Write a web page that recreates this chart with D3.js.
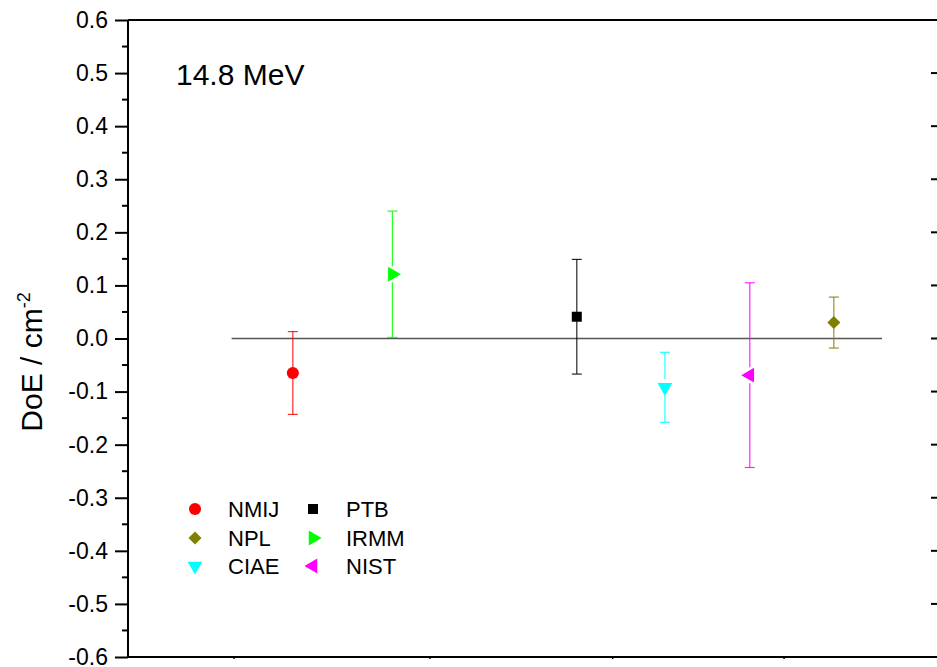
<!DOCTYPE html>
<html>
<head>
<meta charset="utf-8">
<script src="https://cdn.jsdelivr.net/npm/d3@7"></script>
<style>
  html, body { margin: 0; padding: 0; background: #fff; overflow: hidden; }
  svg { display: block; font-family: Arial, "Liberation Sans", sans-serif; }
</style>
</head>
<body>
<div id="chart"></div>
<script>
// ---- data ----
const labs   = ["NMIJ", "IRMM", "PTB", "CIAE", "NIST", "NPL"];
const xPos   = [20.2, 32.4, 55.0, 65.8, 76.2, 86.5];
const doe    = [-0.065, 0.121, 0.041, -0.092, -0.069, 0.030];
const unc    = [0.078, 0.119, 0.108, 0.066, 0.174, 0.048];
const colors = ["#ff0000", "#00ff00", "#000000", "#00ffff", "#ff00ff", "#808000"];
const shapes = ["circle", "triR", "square", "triD", "triL", "diamond"];
const legendOrder = [["NMIJ", "NPL", "CIAE"], ["PTB", "IRMM", "NIST"]];
const yTicks = [-0.6, -0.5, -0.4, -0.3, -0.2, -0.1, 0.0, 0.1, 0.2, 0.3, 0.4, 0.5, 0.6];
const xTicks = [13, 37, 59.4, 80.4];
const zeroLine = [12.7, 92.4];
const energyLabel = "14.8 MeV";

const W = 937, H = 667;
const L = 128, R = 944, T = 20, B = 657;

const svg = d3.select("#chart").append("svg").attr("width", W).attr("height", H);

const x = d3.scaleLinear().domain([0, 100]).range([L, R]);
const y = d3.scaleLinear().domain([-0.6, 0.6]).range([B, T]);

const fmt = v => d3.format(".1f")(v).replace("\u2212", "-");

const minor = d3.range(-0.55, 0.6, 0.1);

// left axis
const gl = svg.append("g").attr("transform", `translate(${L},0)`);
gl.call(d3.axisLeft(y).tickValues(yTicks).tickFormat(fmt).tickSize(13).tickPadding(7));
gl.select(".domain").remove();
gl.selectAll(".tick line").attr("stroke", "#000").attr("stroke-width", 2);
gl.selectAll(".tick text").attr("font-size", 23).attr("fill", "#000")
  .attr("font-family", "Arial, 'Liberation Sans', sans-serif");
gl.selectAll(".minor").data(minor).enter().append("line")
  .attr("x1", -6).attr("x2", 0).attr("y1", d => y(d)).attr("y2", d => y(d))
  .attr("stroke", "#000").attr("stroke-width", 2);

// right axis (ticks inward)
const gr = svg.append("g").attr("transform", `translate(${R},0)`);
gr.selectAll(".maj").data(yTicks).enter().append("line")
  .attr("x1", -13).attr("x2", 0).attr("y1", d => y(d)).attr("y2", d => y(d))
  .attr("stroke", "#000").attr("stroke-width", 2);

// bottom tiny ticks
svg.selectAll(".bt").data(xTicks).enter().append("line")
  .attr("x1", d => x(d)).attr("x2", d => x(d)).attr("y1", B - 1).attr("y2", B + 2)
  .attr("stroke", "#000").attr("stroke-width", 1.5);

// frame
svg.append("line").attr("x1", L).attr("x2", R).attr("y1", T).attr("y2", T).attr("stroke", "#000").attr("stroke-width", 2);
svg.append("line").attr("x1", L).attr("x2", R).attr("y1", B).attr("y2", B).attr("stroke", "#000").attr("stroke-width", 2);
svg.append("line").attr("x1", L).attr("x2", L).attr("y1", T).attr("y2", B).attr("stroke", "#000").attr("stroke-width", 2);

// zero line
svg.append("line").attr("x1", x(zeroLine[0])).attr("x2", x(zeroLine[1]))
  .attr("y1", y(0)).attr("y2", y(0)).attr("stroke", "#555").attr("stroke-width", 1.5);

function markerPath(shape) {
  const tri = d3.symbol().type(d3.symbolTriangle).size(95)();
  switch (shape) {
    case "circle": return { d: d3.symbol().type(d3.symbolCircle).size(115)(), rot: 0 };
    case "square": return { d: d3.symbol().type(d3.symbolSquare).size(100)(), rot: 0 };
    case "diamond": return { d: d3.symbol().type(d3.symbolSquare).size(85)(), rot: 45 };
    case "triR": return { d: tri, rot: 90 };
    case "triL": return { d: tri, rot: -90 };
    case "triD": return { d: tri, rot: 180 };
  }
}
const gapFor = s => (s.startsWith("tri") ? 8 : 0);

// error bars + markers
labs.forEach((lab, i) => {
  const cx = x(xPos[i]), cy = y(doe[i]);
  const yt = y(doe[i] + unc[i]), yb = y(doe[i] - unc[i]);
  const g = svg.append("g");
  const gap = gapFor(shapes[i]);
  const st = { stroke: colors[i], "stroke-width": 1.2, "stroke-opacity": 0.85 };
  const seg = (a, b) => {
    if (b - a <= 0) return;
    const l = g.append("line").attr("x1", cx).attr("x2", cx).attr("y1", a).attr("y2", b);
    Object.entries(st).forEach(([k, v]) => l.attr(k, v));
  };
  seg(yt, cy - gap);
  seg(cy + gap, yb);
  [yt, yb].forEach(yy => {
    const l = g.append("line").attr("x1", cx - 5).attr("x2", cx + 5).attr("y1", yy).attr("y2", yy);
    Object.entries(st).forEach(([k, v]) => l.attr(k, v));
  });
  const m = markerPath(shapes[i]);
  g.append("path").attr("d", m.d).attr("fill", colors[i])
    .attr("transform", `translate(${cx},${cy}) rotate(${m.rot})`);
});

// energy label
svg.append("text").attr("x", 176).attr("y", 85).attr("font-size", 30).attr("fill", "#000").text(energyLabel);

// y axis title
const yt = svg.append("text").attr("transform", `translate(42,362) rotate(-90)`)
  .attr("text-anchor", "middle").attr("font-size", 30).attr("fill", "#000");
yt.append("tspan").text("DoE / cm");
yt.append("tspan").attr("dy", -12).attr("font-size", 18).text("-2");

// legend
const legX = [195, 313], legTX = [228, 346], legY = [509, 538, 566];
legendOrder.forEach((col, ci) => {
  col.forEach((name, ri) => {
    const i = labs.indexOf(name);
    const m = markerPath(shapes[i]);
    svg.append("path").attr("d", m.d).attr("fill", colors[i])
      .attr("transform", `translate(${legX[ci]},${legY[ri]}) rotate(${m.rot})`);
    svg.append("text").attr("x", legTX[ci]).attr("y", legY[ri] + 8)
      .attr("font-size", 22).attr("fill", "#000").text(name);
  });
});
</script>
</body>
</html>
